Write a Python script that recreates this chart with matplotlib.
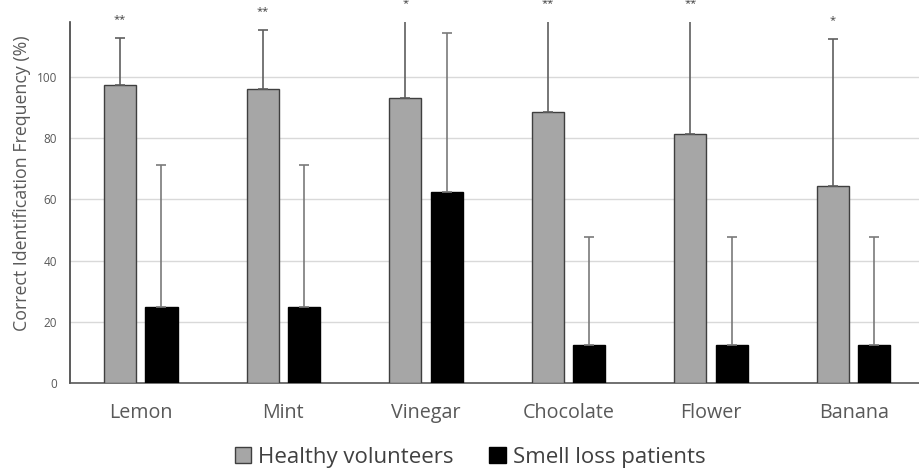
import matplotlib
matplotlib.use("Agg")
import matplotlib.pyplot as plt
import numpy as np

odors = ["Lemon", "Mint", "Vinegar", "Chocolate", "Flower", "Banana"]
healthy = [97.5, 96.0, 93.0, 88.5, 81.5, 64.3]
healthy_sd = [15.3, 19.3, 25.5, 31.0, 38.0, 48.1]
patients = [25.0, 25.0, 62.5, 12.5, 12.5, 12.5]
patients_sd = [46.3, 46.3, 51.7, 35.4, 35.4, 35.4]
significance = ["**", "**", "*", "**", "**", "*"]
series_names = ["Healthy volunteers", "Smell loss patients"]

plt.rcParams["font.family"] = ["Open Sans", "DejaVu Sans"]

fig = plt.figure(figsize=(9.19, 4.70), dpi=100)
ax = fig.add_axes([69.5 / 919, 1 - 383.3 / 470, (925.0 - 69.5) / 919, (383.3 - 21.7) / 470])

x = np.arange(len(odors))
w = 0.225
off = 0.145
y_top = 118
grey = "#a6a6a6"
edge = "#3f3f3f"

ax.bar(x - off, healthy, w, color=grey, edgecolor=edge, linewidth=1.0,
       label=series_names[0], zorder=3)
ax.bar(x + off, patients, w, color="black", edgecolor="black", linewidth=1.0,
       label=series_names[1], zorder=3)

ax.errorbar(x - off, healthy, yerr=[np.zeros(len(x)), healthy_sd], fmt="none",
            ecolor="#5f5f5f", elinewidth=1.2, capsize=3.5, capthick=1.2, zorder=4)
ax.errorbar(x + off, patients, yerr=[np.zeros(len(x)), patients_sd], fmt="none",
            ecolor="#7a7a7a", elinewidth=1.2, capsize=3.5, capthick=1.2, zorder=4)

# significance marks sit just above the (possibly clipped) healthy error bar
for xi, h, s, star in zip(x, healthy, healthy_sd, significance):
    ax.text(xi - off, min(h + s, y_top) + 6.0, star, ha="center", va="center",
            fontsize=8, color="#404040", clip_on=False)

ax.set_xlim(-0.5, len(odors) - 0.5)
ax.set_ylim(0, y_top)
ax.set_yticks([0, 20, 40, 60, 80, 100])
ax.yaxis.grid(True, color="#d9d9d9", linewidth=1.0, zorder=0)
ax.set_axisbelow(True)

ax.set_xticks(x)
ax.set_xticklabels(odors, fontsize=14.2, color="#595959")
ax.tick_params(axis="x", length=0, pad=14)
ax.tick_params(axis="y", length=0, labelsize=8.5, labelcolor="#595959", pad=9)

for side in ("top", "right"):
    ax.spines[side].set_visible(False)
ax.spines["left"].set_color("#404040")
ax.spines["bottom"].set_color("#595959")
ax.spines["left"].set_linewidth(1.2)
ax.spines["bottom"].set_linewidth(1.2)

ax.set_ylabel("Correct Identification Frequency (%)", fontsize=12.8, color="#595959")
ax.yaxis.set_label_coords(-0.045, 0.554)

leg = fig.legend(loc="center", bbox_to_anchor=(470 / 919, 1 - 457 / 470), ncol=2,
                 frameon=False, fontsize=16, handlelength=0.75, handleheight=0.75,
                 handletextpad=0.3, columnspacing=1.6, labelcolor="#404040")

fig.savefig("out.png", dpi=100)
